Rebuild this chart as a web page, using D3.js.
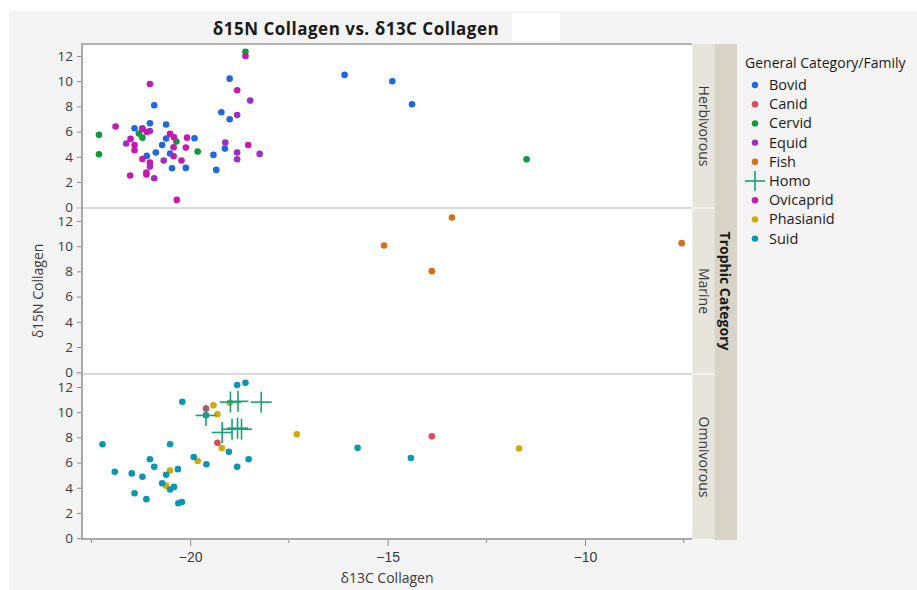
<!DOCTYPE html>
<html>
<head>
<meta charset="utf-8">
<script src="https://cdn.jsdelivr.net/npm/d3@7"></script>
<style>
  html, body { margin: 0; padding: 0; background: #ffffff; }
  svg { display: block; font-family: "Open Sans", "Noto Sans", sans-serif; }
</style>
</head>
<body>
<svg id="chart" width="917" height="590"></svg>
<script>
// δ13C / δ15N collagen values, one [δ13C, δ15N] pair per specimen, grouped by family
const families = ["Bovid", "Canid", "Cervid", "Equid", "Fish", "Homo", "Ovicaprid", "Phasianid", "Suid"];
const trophicCategories = ["Herbivorous", "Marine", "Omnivorous"];
const familyTrophic = ["Herbivorous", "Omnivorous", "Herbivorous", "Herbivorous", "Marine", "Omnivorous", "Herbivorous", "Omnivorous", "Omnivorous"];
const familyColors = ["#1f69da", "#e04a57", "#0e9a38", "#9b2fc2", "#d2701c", "#16a07c", "#c718b0", "#cfab05", "#0d96b3"];

const bovid = [
  [-21.41, 6.26], [-21.21, 6.26], [-21.02, 6.66], [-20.91, 8.09], [-21.10, 4.07], [-20.87, 4.34],
  [-20.71, 4.94], [-20.61, 5.45], [-20.61, 6.56], [-20.51, 4.26], [-20.46, 3.09], [-20.11, 3.12],
  [-19.89, 5.47], [-19.41, 4.15], [-19.34, 2.96], [-19.21, 7.53], [-19.12, 4.65], [-19.00, 6.98],
  [-19.00, 10.20], [-16.09, 10.50], [-14.88, 10.00], [-14.38, 8.17]
];
const canid = [[-19.60, 10.28], [-19.31, 7.57], [-13.88, 8.08]];
const cervid = [
  [-22.31, 5.74], [-22.31, 4.20], [-21.30, 5.84], [-21.21, 5.52], [-20.35, 5.21], [-19.81, 4.41],
  [-18.60, 12.34], [-11.48, 3.81]
];
const equid = [
  [-21.62, 5.05], [-21.02, 6.05], [-21.02, 3.22], [-20.91, 2.30], [-20.67, 3.70], [-19.11, 5.13],
  [-18.81, 7.32], [-18.81, 4.34], [-18.81, 3.81], [-18.48, 8.46], [-18.24, 4.23]
];
const fish = [[-15.09, 10.05], [-13.37, 12.27], [-13.88, 8.02], [-7.55, 10.24]];
const homo = [
  [-19.60, 9.74], [-18.98, 10.80], [-18.79, 10.86], [-18.20, 10.80], [-19.19, 8.39],
  [-18.94, 8.65], [-18.80, 8.73], [-18.70, 8.65]
];
const ovicaprid = [
  [-21.89, 6.40], [-21.51, 5.42], [-21.41, 4.94], [-21.41, 4.52], [-21.52, 2.51], [-21.21, 6.19],
  [-21.10, 5.97], [-21.02, 9.78], [-21.21, 3.83], [-21.02, 3.54], [-21.11, 2.75], [-21.11, 2.59],
  [-20.51, 5.82], [-20.41, 5.55], [-20.42, 4.76], [-20.42, 4.04], [-20.34, 0.58], [-20.22, 3.70],
  [-20.11, 4.73], [-20.08, 5.52], [-18.81, 9.28], [-18.60, 12.00], [-18.53, 4.94]
];
const phasianid = [
  [-20.51, 5.37], [-20.61, 4.17], [-19.81, 6.13], [-19.41, 10.54], [-19.31, 9.84], [-19.20, 7.15],
  [-19.00, 10.75], [-17.30, 8.25], [-11.67, 7.12]
];
const suid = [
  [-22.22, 7.46], [-21.91, 5.27], [-21.48, 5.14], [-21.41, 3.57], [-21.21, 4.88], [-21.11, 3.10],
  [-21.02, 6.26], [-20.91, 5.66], [-20.71, 4.36], [-20.61, 5.04], [-20.51, 7.46], [-20.51, 3.86],
  [-20.41, 4.07], [-20.31, 5.48], [-20.30, 2.77], [-20.21, 2.87], [-20.20, 10.83], [-19.91, 6.44],
  [-19.60, 9.76], [-19.59, 5.87], [-19.02, 6.86], [-18.81, 5.66], [-18.81, 12.16], [-18.60, 12.34],
  [-18.52, 6.26], [-15.76, 7.17], [-14.41, 6.36]
];
const familyValues = [bovid, canid, cervid, equid, fish, homo, ovicaprid, phasianid, suid];

const yTicks = [0, 2, 4, 6, 8, 10, 12];
const xMajorTicks = [-20, -15, -10];
const xMinorTicks = [-22.5, -17.5, -12.5, -7.5];

// long-form table built from the arrays above
const rows = [];
families.forEach((f, i) => {
  familyValues[i].forEach(([c, n]) => rows.push({ family: f, trophic: familyTrophic[i], c13: c, n15: n }));
});

const svg = d3.select("#chart");
const W = 917, H = 590;

// window background and the white title patch
svg.append("rect").attr("width", W).attr("height", H).attr("fill", "#ffffff");
svg.append("rect").attr("x", 9).attr("y", 11).attr("width", W - 9).attr("height", H - 11).attr("fill", "#f4f4f4");
svg.append("rect").attr("x", 512).attr("y", 14).attr("width", 48).attr("height", 27).attr("fill", "#ffffff");

const left = 82, right = 692;
const panelTops = [44, 209, 375];
const panelH = 164;

const x = d3.scaleLinear().domain([-22.74, -7.29]).range([left, right]);
const color = d3.scaleOrdinal().domain(families).range(familyColors);
const panelIndex = d3.scaleOrdinal().domain(trophicCategories).range([0, 1, 2]);

// title
svg.append("text").attr("x", 356).attr("y", 35).attr("text-anchor", "middle")
  .attr("font-size", 17).attr("font-weight", 700).attr("letter-spacing", 0.5).attr("fill", "#1a1a1a")
  .text("δ15N Collagen vs. δ13C Collagen");

trophicCategories.forEach((cat, pi) => {
  const top = panelTops[pi];
  const y = d3.scaleLinear().domain([0, 12.95]).range([top + panelH - 0.8, top]);
  const g = svg.append("g");
  g.append("rect").attr("x", left).attr("y", top).attr("width", right - left).attr("height", panelH).attr("fill", "#ffffff");

  const ax = g.append("g").attr("transform", `translate(${left},0)`)
    .call(d3.axisLeft(y).tickValues(yTicks).tickSize(5).tickPadding(4).tickFormat(d3.format("d")));
  ax.select(".domain").remove();
  ax.selectAll(".tick line").attr("stroke", "#8c8c8c");
  ax.selectAll(".tick text").attr("font-size", 13.5).attr("fill", "#3a3a3a").attr("font-family", "Open Sans, sans-serif");

  // trophic strip label
  g.append("rect").attr("x", right + 0.5).attr("y", top).attr("width", 22).attr("height", panelH).attr("fill", "#e7e4dc");
  g.append("text").attr("transform", `translate(${right + 7},${top + panelH / 2}) rotate(90)`)
    .attr("text-anchor", "middle").attr("font-size", 14).attr("fill", "#3a3a3a").text(cat);

  const pts = rows.filter(r => panelIndex(r.trophic) === pi);
  g.selectAll("circle.pt").data(pts.filter(r => r.family !== "Homo")).join("circle")
    .attr("class", "pt").attr("cx", d => x(d.c13)).attr("cy", d => y(d.n15)).attr("r", 3.3)
    .attr("fill", d => color(d.family));
  const crosses = g.selectAll("g.cross").data(pts.filter(r => r.family === "Homo")).join("g")
    .attr("class", "cross").attr("transform", d => `translate(${x(d.c13)},${y(d.n15)})`)
    .attr("stroke", color("Homo")).attr("stroke-width", 1.6);
  crosses.append("line").attr("x1", -10.5).attr("x2", 10.5);
  crosses.append("line").attr("y1", -10.5).attr("y2", 10.5);
});

// panel separators and frame
svg.append("line").attr("x1", 76).attr("x2", right).attr("y1", 208).attr("y2", 208).attr("stroke", "#dadada").attr("stroke-width", 2);
svg.append("line").attr("x1", 76).attr("x2", right).attr("y1", 374).attr("y2", 374).attr("stroke", "#dadada").attr("stroke-width", 2);
svg.append("line").attr("x1", left).attr("x2", right).attr("y1", 44).attr("y2", 44).attr("stroke", "#b2b2b2").attr("stroke-width", 2);
svg.append("line").attr("x1", left).attr("x2", left).attr("y1", 43).attr("y2", 540).attr("stroke", "#a8a8a8").attr("stroke-width", 2);
svg.append("line").attr("x1", right + 0.5).attr("x2", right + 22.5).attr("y1", 208).attr("y2", 208).attr("stroke", "#f2f1ec").attr("stroke-width", 2);
svg.append("line").attr("x1", right + 0.5).attr("x2", right + 22.5).attr("y1", 374).attr("y2", 374).attr("stroke", "#f2f1ec").attr("stroke-width", 2);

// outer strip
svg.append("rect").attr("x", 714.5).attr("y", 44).attr("width", 22.5).attr("height", 496).attr("fill", "#d8d4c7");
svg.append("text").attr("transform", `translate(${720},${291}) rotate(90)`)
  .attr("text-anchor", "middle").attr("font-size", 14).attr("font-weight", 700).attr("fill", "#1a1a1a")
  .text("Trophic Category");

// x axis
const xAx = svg.append("g").attr("transform", `translate(0,539)`)
  .call(d3.axisBottom(x).tickValues(xMajorTicks).tickSize(7).tickPadding(6));
xAx.select(".domain").remove();
xAx.selectAll(".tick line").attr("stroke", "#8c8c8c");
xAx.selectAll(".tick text").attr("font-size", 14).attr("fill", "#3a3a3a");
svg.append("g").selectAll("line").data(xMinorTicks).join("line")
  .attr("x1", d => x(d)).attr("x2", d => x(d)).attr("y1", 539).attr("y2", 543).attr("stroke", "#8c8c8c");
svg.append("line").attr("x1", left - 1).attr("x2", right).attr("y1", 539).attr("y2", 539).attr("stroke", "#a8a8a8").attr("stroke-width", 2);

// axis titles
svg.append("text").attr("x", (left + right) / 2).attr("y", 583).attr("text-anchor", "middle")
  .attr("font-size", 14).attr("fill", "#3a3a3a").text("δ13C Collagen");
svg.append("text").attr("transform", `translate(43,291) rotate(-90)`).attr("text-anchor", "middle")
  .attr("font-size", 14).attr("fill", "#3a3a3a").text("δ15N Collagen");

// legend
const lg = svg.append("g").attr("transform", "translate(745,0)");
lg.append("text").attr("x", 0).attr("y", 68).attr("font-size", 14).attr("fill", "#1a1a1a").text("General Category/Family");
const item = lg.selectAll("g.item").data(families).join("g").attr("class", "item")
  .attr("transform", (d, i) => `translate(0,${85 + i * 19.2})`);
item.each(function (d) {
  const s = d3.select(this);
  if (d === "Homo") {
    s.append("line").attr("x1", 0).attr("x2", 20).attr("stroke", color(d)).attr("stroke-width", 1.6);
    s.append("line").attr("x1", 10).attr("x2", 10).attr("y1", -10).attr("y2", 10).attr("stroke", color(d)).attr("stroke-width", 1.6);
  } else {
    s.append("circle").attr("cx", 10).attr("cy", 0).attr("r", 3.2).attr("fill", color(d));
  }
});
item.append("text").attr("x", 24).attr("y", 5).attr("font-size", 14.5).attr("fill", "#1a1a1a").text(d => d);
</script>
</body>
</html>
